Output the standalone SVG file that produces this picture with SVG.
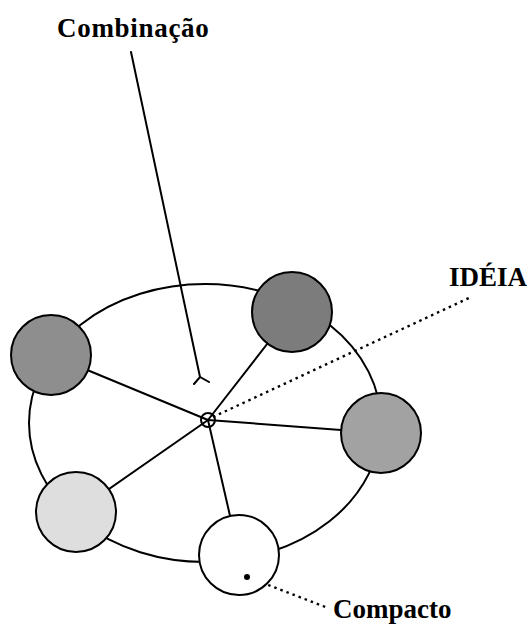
<svg xmlns="http://www.w3.org/2000/svg" width="530" height="625" viewBox="0 0 530 625">
  <style>
    .line { fill: none; stroke: #000; stroke-width: 2; stroke-linecap: round; }
    .dots { fill: none; stroke: #000; stroke-width: 2.4; stroke-dasharray: 2.5 4; }
    .node { stroke: #000; stroke-width: 2; }
    .label { font-family: "Liberation Serif", "Times New Roman", serif; font-size: 27px; font-weight: bold; fill: #000; }
  </style>

  <rect width="530" height="625" fill="#fff"/>

  <!-- ring joining the five nodes -->
  <ellipse id="ring" cx="205" cy="423" rx="176" ry="139" class="line"/>

  <g id="connectors">
    <!-- spokes from the hub to every node -->
    <line class="line" x1="208" y1="420" x2="51" y2="355"/>
    <line class="line" x1="208" y1="420" x2="292" y2="312"/>
    <line class="line" x1="208" y1="420" x2="381" y2="433"/>
    <line class="line" x1="208" y1="420" x2="239" y2="555"/>
    <line class="line" x1="208" y1="420" x2="76" y2="512"/>
    <!-- pointer from the "Combinação" label with forked tip -->
    <path class="line" d="M131 52 L200 377 M194 384 L200 377 L209 382"/>
    <!-- dotted leaders -->
    <line class="dots" x1="213" y1="417" x2="471" y2="297"/>
    <line class="dots" x1="250" y1="578" x2="328" y2="608"/>
  </g>

  <g id="node-top-left">
    <circle class="node" cx="51" cy="355" r="40" fill="#8e8e8e"/>
  </g>
  <g id="node-top-right">
    <circle class="node" cx="292" cy="312" r="40" fill="#7c7c7c"/>
  </g>
  <g id="node-right">
    <circle class="node" cx="381" cy="433" r="40" fill="#a2a2a2"/>
  </g>
  <g id="node-bottom-left">
    <circle class="node" cx="76" cy="512" r="40" fill="#dedede"/>
  </g>
  <g id="node-compacto">
    <circle class="node" cx="239" cy="555" r="40" fill="#fff"/>
    <circle cx="247" cy="577" r="3" fill="#000"/>
  </g>

  <g id="hub">
    <circle cx="208" cy="420" r="7" fill="none" stroke="#000" stroke-width="2"/>
  </g>

  <g id="labels">
    <text class="label" x="57" y="37" letter-spacing="0.7">Combinação</text>
    <text class="label" x="449" y="286">IDÉIA</text>
    <text class="label" x="333" y="618">Compacto</text>
  </g>
</svg>
